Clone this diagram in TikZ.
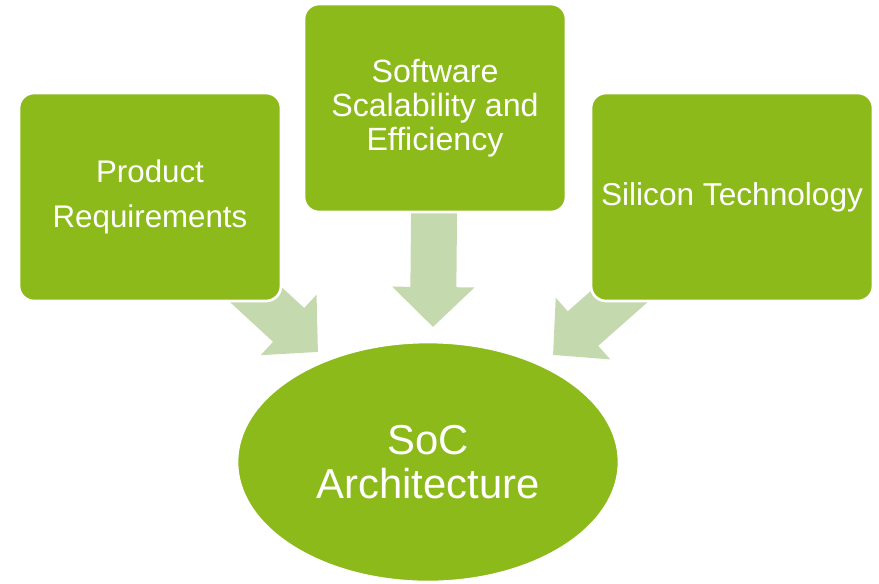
\documentclass[tikz,border=0pt]{standalone}
\usepackage{fontspec}
\setmainfont{Liberation Sans}
\usetikzlibrary{arrows.meta,shapes.geometric,backgrounds}
\definecolor{leaf}{RGB}{139,186,26}
\definecolor{paleleaf}{RGB}{197,217,174}
\tikzset{
  box/.style={rectangle, rounded corners=0.3cm, fill=leaf, draw=white, line width=1.5pt,
    text=white, align=center, minimum width=5.24cm, minimum height=4.16cm, inner sep=2pt},
  bigarrow/.style={paleleaf, line width=0.92cm, -{Triangle[width=1.6cm,length=0.8cm]}}
}
\begin{document}
\begin{tikzpicture}[x=0.02cm,y=-0.02cm]
    \useasboundingbox (0,0) rectangle (879,583);
    \node[box, font={\fontsize{17.8}{25.6}\selectfont}] (prod) at (150,197) {Product\\Requirements};
    \node[box, font={\fontsize{18.3}{19.3}\selectfont}] (soft) at (435,108) {Software\\Scalability and\\Efficiency};
    \node[box, minimum width=5.64cm, font={\fontsize{18}{21}\selectfont}] (sil) at (732,197) {Silicon Technology};
    \node[ellipse, fill=leaf, draw=white, line width=1.5pt, text=white, align=center,
      minimum width=7.64cm, minimum height=4.8cm, inner sep=0pt,
      font={\fontsize{23.8}{25}\selectfont}] (soc) at (428,462) {SoC\\Architecture};
    \coordinate (tipl) at (318,352);
    \coordinate (tipm) at (433,327);
    \coordinate (tipr) at (553,355);
    \begin{scope}[on background layer]
    \draw [bigarrow] (prod.center) -- (tipl);
    \draw [bigarrow] (soft.center) -- (tipm);
    \draw [bigarrow] (sil.center) -- (tipr);
    \end{scope}
    \end{tikzpicture}
\end{document}
